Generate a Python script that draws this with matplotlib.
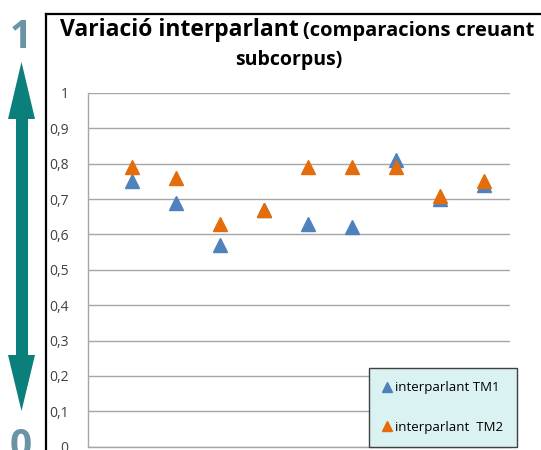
from matplotlib import pyplot as plt
from matplotlib.patches import Polygon, Rectangle
from matplotlib.lines import Line2D

# data
categories = [1, 2, 3, 4, 5, 6, 7, 8, 9]
tm1_values = [0.75, 0.69, 0.57, 0.67, 0.63, 0.62, 0.81, 0.70, 0.74]
tm2_values = [0.79, 0.76, 0.63, 0.67, 0.79, 0.79, 0.79, 0.71, 0.75]
series_names = ["interparlant TM1", "interparlant  TM2"]
y_ticks = [0, 0.1, 0.2, 0.3, 0.4, 0.5, 0.6, 0.7, 0.8, 0.9, 1]
y_tick_labels = ["0", "0,1", "0,2", "0,3", "0,4", "0,5", "0,6", "0,7", "0,8", "0,9", "1"]

W, H = 541, 450
FONT = "Open Sans"


def fx(px):
	return px / W


def fy(py):
	return 1 - py / H


def main():
	fig = plt.figure(figsize=(W / 100, H / 100), dpi=100)
	fig.patch.set_facecolor("white")

	ax = fig.add_axes([fx(88), fy(446.6), fx(510) - fx(88), fy(93) - fy(446.6)])
	ax.set_xlim(0, 9.6)
	ax.set_ylim(0, 1)
	ax.set_yticks(y_ticks)
	ax.set_yticklabels(y_tick_labels, fontsize=10, color="#404040", family=FONT)
	ax.set_xticks([])
	ax.tick_params(axis="y", length=0, pad=14)
	ax.grid(axis="y", color="#a6a6a6", linewidth=1)
	ax.set_axisbelow(True)
	for side in ["top", "right"]:
		ax.spines[side].set_visible(False)
	for side in ["left", "bottom"]:
		ax.spines[side].set_color("#a6a6a6")
		ax.spines[side].set_linewidth(1)

	ax.plot(categories, tm1_values, linestyle="none", marker="^", markersize=9.5,
		color="#4f81bd", label=series_names[0], clip_on=False, zorder=3)
	ax.plot(categories, tm2_values, linestyle="none", marker="^", markersize=9.5,
		color="#e46c0a", label=series_names[1], clip_on=False, zorder=4)

	leg = ax.legend(loc="upper left", bbox_to_anchor=(fx(369), fy(368)),
		bbox_transform=fig.transFigure, frameon=True, fancybox=False,
		labelspacing=2.0, handlelength=0.7, handletextpad=0.3, borderpad=1.0,
		markerscale=0.75, prop={"family": FONT, "size": 9.5}, borderaxespad=0)
	leg.get_frame().set_facecolor("#dbf2f3")
	leg.get_frame().set_edgecolor("#404040")
	leg.get_frame().set_alpha(1)
	leg.get_frame().set_linewidth(1)

	# chart frame (left and top edges visible)
	fig.add_artist(Line2D([fx(46), fx(46)], [fy(14), fy(452)], color="black", linewidth=1.6))
	fig.add_artist(Line2D([fx(46), fx(545)], [fy(14), fy(14)], color="black", linewidth=1.6))

	# title, two sizes on the first line
	t1 = fig.text(fx(60), fy(36), "Variació interparlant", fontsize=16.5, fontweight="bold",
		family=FONT, ha="left", va="baseline", color="black")
	fig.canvas.draw()
	bb = t1.get_window_extent()
	fig.text(bb.x1 / W + fx(4), fy(36), "(comparacions creuant", fontsize=14.5, fontweight="bold",
		family=FONT, ha="left", va="baseline", color="black")
	fig.text(fx(289), fy(65), "subcorpus)", fontsize=14, fontweight="bold",
		family=FONT, ha="center", va="baseline", color="black")

	# teal double arrow on the left
	teal = "#0b7f7b"
	fig.add_artist(Rectangle((fx(16), fy(356)), fx(12), fy(118) - fy(356),
		transform=fig.transFigure, facecolor=teal, edgecolor="none"))
	fig.add_artist(Polygon([(fx(8), fy(119)), (fx(35), fy(119)), (fx(21.5), fy(62))],
		closed=True, transform=fig.transFigure, facecolor=teal, edgecolor="none"))
	fig.add_artist(Polygon([(fx(8), fy(355)), (fx(35), fy(355)), (fx(21.5), fy(411))],
		closed=True, transform=fig.transFigure, facecolor=teal, edgecolor="none"))
	fig.text(fx(21), fy(48), "1", fontsize=28, fontweight="bold", family=FONT,
		color="#6a93a6", ha="center", va="baseline")
	fig.text(fx(21), fy(457), "0", fontsize=28, fontweight="bold", family=FONT,
		color="#6a93a6", ha="center", va="baseline")

	fig.savefig("out.png", dpi=100)
	plt.close(fig)


if __name__ == "__main__":
	main()
